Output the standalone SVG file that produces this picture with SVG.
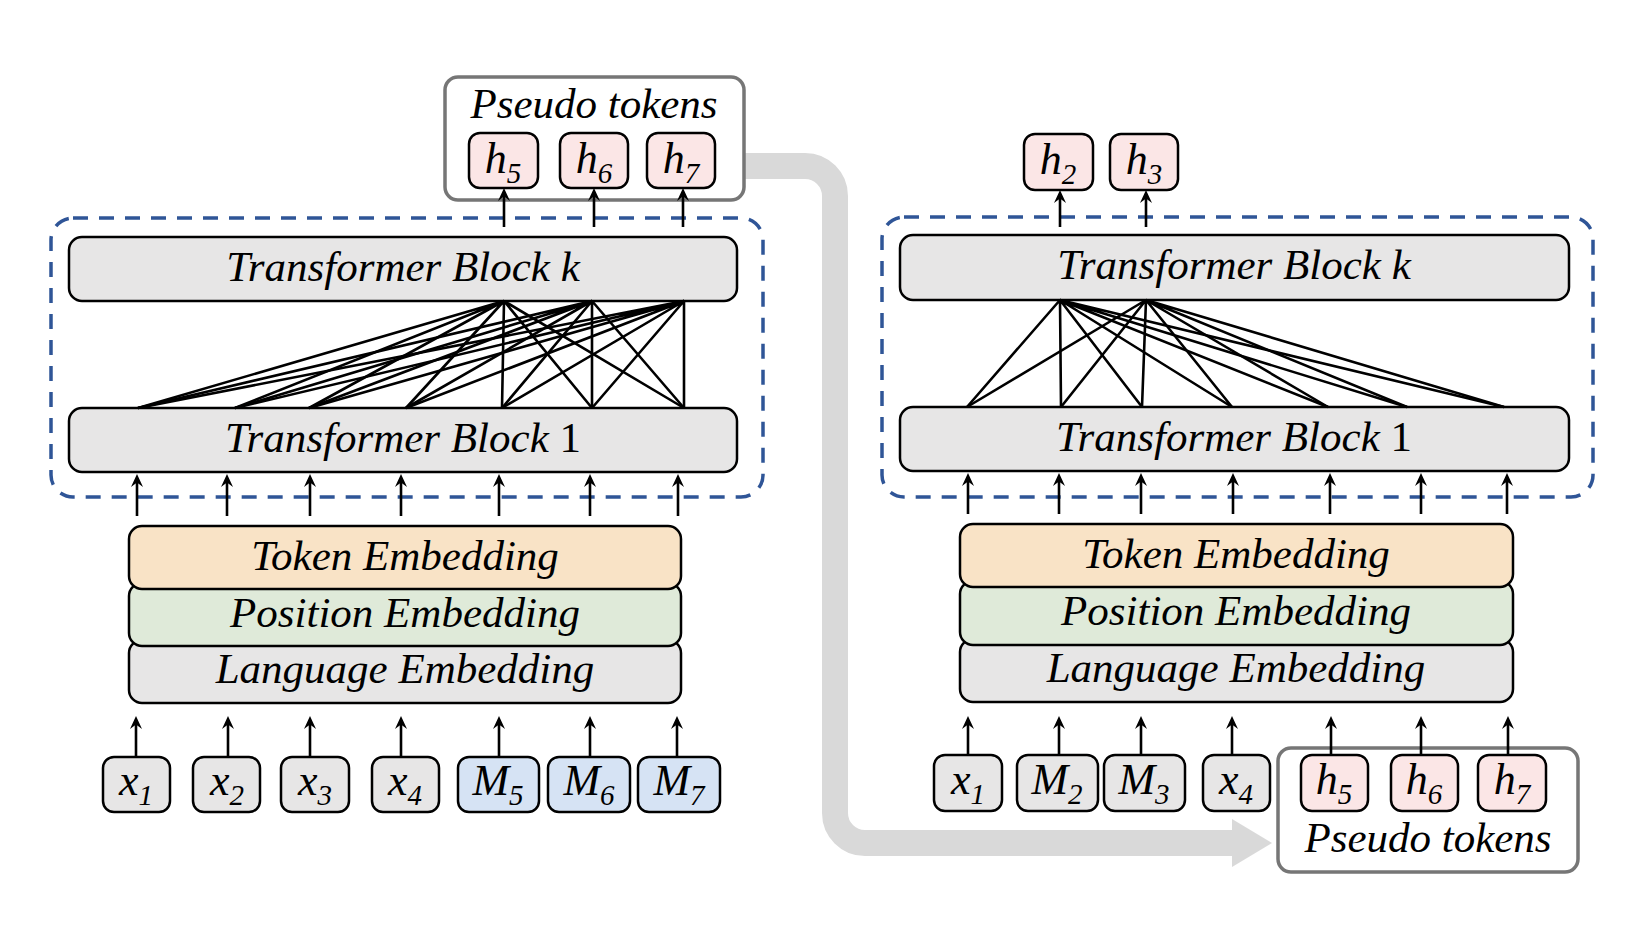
<svg xmlns="http://www.w3.org/2000/svg" width="1642" height="938" viewBox="0 0 1642 938">
<style>
  text { font-family: "Liberation Serif", "Times New Roman", serif; font-style: italic; fill: #000; }
  .big { font-size: 43px; }
  .tok { font-size: 44px; }
  .sub { font-size: 29px; }
  .up { font-style: normal; }
  .blk { fill: #e7e6e6; stroke: #000; stroke-width: 2.5; }
  .gray { fill: #e7e6e6; stroke: #000; stroke-width: 2.5; }
  .pink { fill: #fbe6e6; stroke: #000; stroke-width: 2.5; }
  .blue { fill: #d6e3f4; stroke: #000; stroke-width: 2.5; }
  .orange { fill: #f9e3c6; stroke: #000; stroke-width: 2.5; }
  .green { fill: #dfead9; stroke: #000; stroke-width: 2.5; }
  .dash { fill: none; stroke: #2f5597; stroke-width: 3.5; stroke-dasharray: 15 11; }
  .pbox { fill: #fff; stroke: #767676; stroke-width: 3.5; }
  .arr { stroke: #000; stroke-width: 2.6; fill: none; marker-end: url(#ah); }
  .ln { stroke: #000; stroke-width: 2.6; fill: none; }
</style>
<defs>
  <marker id="ah" viewBox="0 0 13 13" refX="9" refY="6.5" markerWidth="13" markerHeight="13" orient="auto" markerUnits="userSpaceOnUse">
    <path d="M0,0.5 L13,6.5 L0,12.5 L4.5,6.5 z" fill="#000"/>
  </marker>
</defs>
<rect width="1642" height="938" fill="#fff"/>

<!-- big grey connector -->
<g id="flow">
  <path d="M744,166 H805 A30,30 0 0 1 835,196 V813 A30,30 0 0 0 865,843 H1234" fill="none" stroke="#d9d9d9" stroke-width="26"/>
  <polygon points="1232,819 1272,843 1232,867" fill="#d9d9d9"/>
</g>

<!-- LEFT -->
<g id="left-encoder">
  <rect class="dash" x="51" y="218" width="712" height="279" rx="22"/>
</g>
<g id="left-block-k">
  <rect class="blk" x="69" y="237" width="668" height="64" rx="13"/>
  <text class="big" x="403" y="281" text-anchor="middle">Transformer Block k</text>
</g>
<g id="left-block-1">
  <rect class="blk" x="69" y="408" width="668" height="64" rx="13"/>
  <text class="big" x="403" y="452" text-anchor="middle">Transformer Block <tspan class="up">1</tspan></text>
</g>
<g id="left-pseudo">
  <rect class="pbox" x="445" y="77" width="299" height="123" rx="13"/>
  <text class="big" x="594" y="118" text-anchor="middle">Pseudo tokens</text>
</g>
<g id="left-h5"><rect class="pink" x="469" y="133" width="69" height="55" rx="11"/><text class="tok" x="503" y="173" text-anchor="middle">h<tspan class="sub" dy="10">5</tspan></text></g>
<g id="left-h6"><rect class="pink" x="560" y="133" width="68" height="55" rx="11"/><text class="tok" x="594" y="173" text-anchor="middle">h<tspan class="sub" dy="10">6</tspan></text></g>
<g id="left-h7"><rect class="pink" x="647" y="133" width="68" height="55" rx="11"/><text class="tok" x="681" y="173" text-anchor="middle">h<tspan class="sub" dy="10">7</tspan></text></g>

<g id="left-language-emb">
  <rect class="gray" x="129" y="640" width="552" height="63" rx="13"/>
  <text class="big" x="405" y="683" text-anchor="middle">Language Embedding</text>
</g>
<g id="left-position-emb">
  <rect class="green" x="129" y="583" width="552" height="63" rx="13"/>
  <text class="big" x="405" y="627" text-anchor="middle">Position Embedding</text>
</g>
<g id="left-token-emb">
  <rect class="orange" x="129" y="526" width="552" height="63" rx="13"/>
  <text class="big" x="405" y="570" text-anchor="middle">Token Embedding</text>
</g>

<g id="left-x1"><rect class="gray" x="103" y="757" width="67" height="55" rx="11"/><text class="tok" x="136" y="795" text-anchor="middle">x<tspan class="sub" dy="10">1</tspan></text></g>
<g id="left-x2"><rect class="gray" x="193" y="757" width="67" height="55" rx="11"/><text class="tok" x="227" y="795" text-anchor="middle">x<tspan class="sub" dy="10">2</tspan></text></g>
<g id="left-x3"><rect class="gray" x="281" y="757" width="68" height="55" rx="11"/><text class="tok" x="315" y="795" text-anchor="middle">x<tspan class="sub" dy="10">3</tspan></text></g>
<g id="left-x4"><rect class="gray" x="372" y="757" width="67" height="55" rx="11"/><text class="tok" x="405" y="795" text-anchor="middle">x<tspan class="sub" dy="10">4</tspan></text></g>
<g id="left-m5"><rect class="blue" x="458" y="757" width="81" height="55" rx="11"/><text class="tok" x="498" y="795" text-anchor="middle">M<tspan class="sub" dy="10">5</tspan></text></g>
<g id="left-m6"><rect class="blue" x="548" y="757" width="82" height="55" rx="11"/><text class="tok" x="589" y="795" text-anchor="middle">M<tspan class="sub" dy="10">6</tspan></text></g>
<g id="left-m7"><rect class="blue" x="638" y="757" width="82" height="55" rx="11"/><text class="tok" x="679" y="795" text-anchor="middle">M<tspan class="sub" dy="10">7</tspan></text></g>

<!-- RIGHT -->
<g id="right-encoder">
  <rect class="dash" x="882" y="217" width="711" height="280" rx="22"/>
</g>
<g id="right-block-k">
  <rect class="blk" x="900" y="235" width="669" height="65" rx="13"/>
  <text class="big" x="1234" y="279" text-anchor="middle">Transformer Block k</text>
</g>
<g id="right-block-1">
  <rect class="blk" x="900" y="407" width="669" height="64" rx="13"/>
  <text class="big" x="1234" y="451" text-anchor="middle">Transformer Block <tspan class="up">1</tspan></text>
</g>
<g id="right-h2"><rect class="pink" x="1024" y="134" width="69" height="56" rx="11"/><text class="tok" x="1058" y="174" text-anchor="middle">h<tspan class="sub" dy="10">2</tspan></text></g>
<g id="right-h3"><rect class="pink" x="1110" y="134" width="68" height="56" rx="11"/><text class="tok" x="1144" y="174" text-anchor="middle">h<tspan class="sub" dy="10">3</tspan></text></g>

<g id="right-language-emb">
  <rect class="gray" x="960" y="639" width="553" height="63" rx="13"/>
  <text class="big" x="1236" y="682" text-anchor="middle">Language Embedding</text>
</g>
<g id="right-position-emb">
  <rect class="green" x="960" y="581" width="553" height="64" rx="13"/>
  <text class="big" x="1236" y="625" text-anchor="middle">Position Embedding</text>
</g>
<g id="right-token-emb">
  <rect class="orange" x="960" y="524" width="553" height="63" rx="13"/>
  <text class="big" x="1236" y="568" text-anchor="middle">Token Embedding</text>
</g>

<g id="right-pseudo">
  <rect class="pbox" x="1278" y="748" width="300" height="124" rx="13"/>
  <text class="big" x="1428" y="852" text-anchor="middle">Pseudo tokens</text>
</g>
<g id="right-x1"><rect class="gray" x="934" y="755" width="68" height="56" rx="11"/><text class="tok" x="968" y="794" text-anchor="middle">x<tspan class="sub" dy="10">1</tspan></text></g>
<g id="right-m2"><rect class="gray" x="1017" y="755" width="81" height="56" rx="11"/><text class="tok" x="1057" y="794" text-anchor="middle">M<tspan class="sub" dy="10">2</tspan></text></g>
<g id="right-m3"><rect class="gray" x="1104" y="755" width="81" height="56" rx="11"/><text class="tok" x="1144" y="794" text-anchor="middle">M<tspan class="sub" dy="10">3</tspan></text></g>
<g id="right-x4"><rect class="gray" x="1203" y="755" width="67" height="56" rx="11"/><text class="tok" x="1236" y="794" text-anchor="middle">x<tspan class="sub" dy="10">4</tspan></text></g>
<g id="right-h5"><rect class="pink" x="1301" y="755" width="67" height="56" rx="11"/><text class="tok" x="1334" y="794" text-anchor="middle">h<tspan class="sub" dy="10">5</tspan></text></g>
<g id="right-h6"><rect class="pink" x="1391" y="755" width="67" height="56" rx="11"/><text class="tok" x="1424" y="794" text-anchor="middle">h<tspan class="sub" dy="10">6</tspan></text></g>
<g id="right-h7"><rect class="pink" x="1478" y="755" width="68" height="56" rx="11"/><text class="tok" x="1512" y="794" text-anchor="middle">h<tspan class="sub" dy="10">7</tspan></text></g>

<!-- connectors -->
<g id="connectors">
  <!-- left: tokens to embeddings -->
  <path class="arr" d="M136,757 V720"/>
  <path class="arr" d="M228,757 V720"/>
  <path class="arr" d="M310,757 V720"/>
  <path class="arr" d="M401,757 V720"/>
  <path class="arr" d="M499,757 V720"/>
  <path class="arr" d="M590,757 V720"/>
  <path class="arr" d="M677,757 V720"/>
  <!-- left: embeddings to block 1 -->
  <path class="arr" d="M137,516 V478"/>
  <path class="arr" d="M227,516 V478"/>
  <path class="arr" d="M310,516 V478"/>
  <path class="arr" d="M401,516 V478"/>
  <path class="arr" d="M499,516 V478"/>
  <path class="arr" d="M590,516 V478"/>
  <path class="arr" d="M678,516 V478"/>
  <!-- left: block k to h -->
  <path class="arr" d="M504,227 V192"/>
  <path class="arr" d="M594,227 V192"/>
  <path class="arr" d="M683,227 V192"/>
  <!-- left: attention lines -->
  <path class="ln" d="M504,301 L138,408 M504,301 L235,408 M504,301 L309,408 M504,301 L406,408 M504,301 L502,408 M504,301 L592,408 M504,301 L684,408"/>
  <path class="ln" d="M592,301 L138,408 M592,301 L235,408 M592,301 L309,408 M592,301 L406,408 M592,301 L502,408 M592,301 L592,408 M592,301 L684,408"/>
  <path class="ln" d="M684,301 L138,408 M684,301 L235,408 M684,301 L309,408 M684,301 L406,408 M684,301 L502,408 M684,301 L592,408 M684,301 L684,408"/>

  <!-- right: tokens to embeddings -->
  <path class="arr" d="M968,755 V720"/>
  <path class="arr" d="M1059,755 V720"/>
  <path class="arr" d="M1141,755 V720"/>
  <path class="arr" d="M1232,755 V720"/>
  <path class="arr" d="M1331,755 V720"/>
  <path class="arr" d="M1421,755 V720"/>
  <path class="arr" d="M1508,755 V720"/>
  <!-- right: embeddings to block 1 -->
  <path class="arr" d="M968,514 V477"/>
  <path class="arr" d="M1059,514 V477"/>
  <path class="arr" d="M1141,514 V477"/>
  <path class="arr" d="M1233,514 V477"/>
  <path class="arr" d="M1330,514 V477"/>
  <path class="arr" d="M1421,514 V477"/>
  <path class="arr" d="M1507,514 V477"/>
  <!-- right: block k to h -->
  <path class="arr" d="M1060,227 V194"/>
  <path class="arr" d="M1146,227 V194"/>
  <!-- right: attention lines -->
  <path class="ln" d="M1060,300 L967,407 M1060,300 L1061,407 M1060,300 L1142,407 M1060,300 L1232,407 M1060,300 L1328,407 M1060,300 L1407,407 M1060,300 L1504,407"/>
  <path class="ln" d="M1146,300 L967,407 M1146,300 L1061,407 M1146,300 L1142,407 M1146,300 L1232,407 M1146,300 L1328,407 M1146,300 L1407,407 M1146,300 L1504,407"/>
</g>
</svg>
